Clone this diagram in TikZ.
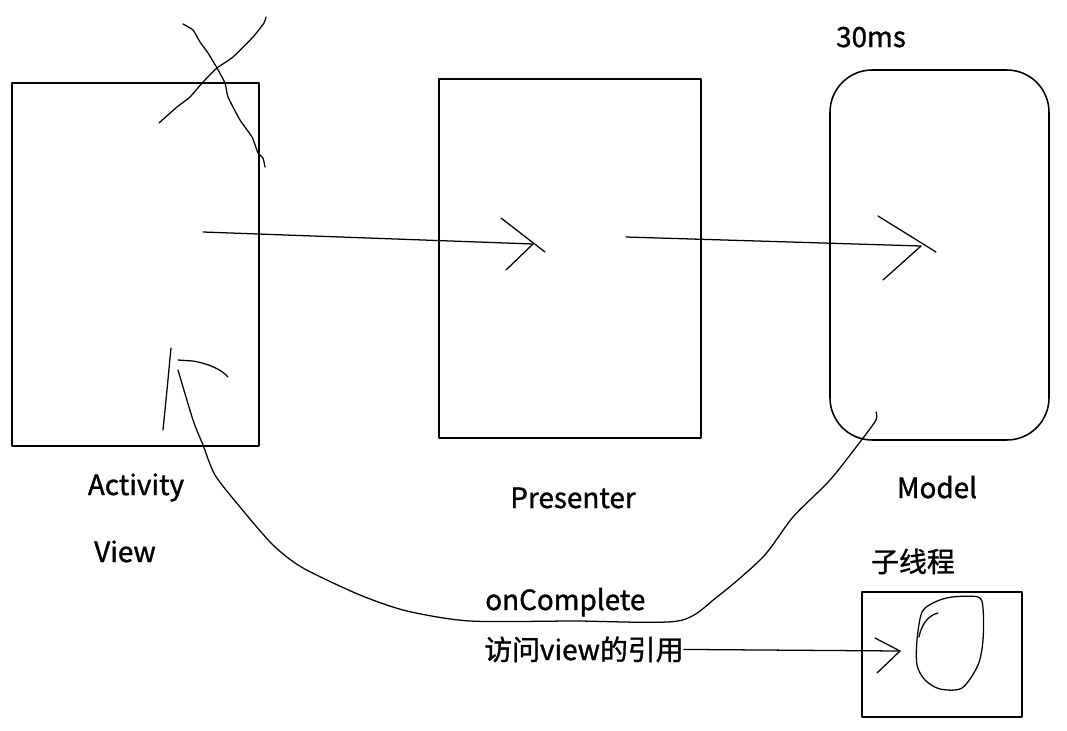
\documentclass[tikz,border=0pt]{standalone}
\usepackage{fontspec}
\setmainfont{Noto Sans CJK SC}[RawFeature={embolden=1.2}]
\begin{document}
\begin{tikzpicture}[x=0.025cm,y=-0.025cm,line join=round,line cap=round]
\tikzset{box/.style={line width=1.1pt},
  pen/.style={line width=0.9pt},
  lbl/.style={font=\fontsize{19.8}{22}\selectfont,inner sep=0pt,anchor=base}}
\useasboundingbox (0,0) rectangle (1067,731);

% boxes
\draw [box] (12,83) rectangle (259,446);
\draw [box] (439,79) rectangle (701,438);
\draw [box,rounded corners=30] (830,70) rectangle (1049,440);
\draw [box] (862,592) rectangle (1022,717);

\node [lbl] (act) at (136,495) {Activity};
\node [lbl] (view) at (125,562) {View};
\node [lbl] (pres) at (573,508) {Presenter};
\node [lbl] (model) at (937,498) {Model};
\node [lbl] (ms) at (871,47) {30ms};
\node [lbl] (sub) at (913,572) {子线程};
\node [lbl,anchor=base west] (done) at (485,610) {onComplete};
\node [lbl,anchor=base west] (ref) at (484,660) {访问view的引用};

\coordinate (a1) at (203,232);
\coordinate (tip1) at (533,244);
\coordinate (a2) at (626,237);
\coordinate (tip2) at (921,246);
\coordinate (tip3) at (900,651);
\coordinate (mtail) at (876,412);
\coordinate (vtip) at (178,370);

% calls
\draw [pen] (a1) -- (tip1);
\draw [pen] (501,218) -- (545,252);
\draw [pen] (tip1) -- (506,270);
\draw [pen] (a2) -- (tip2);
\draw [pen] (878,216) -- (936,252);
\draw [pen] (tip2) -- (883,280);

% callback
\draw [pen] plot [smooth,tension=0.45] coordinates {(mtail) (876,420) (860,442) (830,480) (793,517) (763,557) (717,597) (678,621) (575,621) (470,621) (407,611) (360,595) (303,568) (273,545) (240,507) (215,475) (203,445) (193,420) (vtip)};
\draw [pen] (171,348) -- (167,390) -- (163,430);
\draw [pen] (178,360) -- (193,361) .. controls (210,364) and (222,370) .. (228,377);

\draw [pen] (ref.east) -- (tip3);
\draw [pen] (875,638) -- (tip3) -- (877,673);

% thread blob
\draw [pen] plot [smooth cycle,tension=0.5] coordinates {(917,640) (922,612) (935,602) (952,597) (978,597) (983,608) (983,640) (978,665) (962,688) (940,689) (925,680) (917,665)};
\draw [pen] (919,637) .. controls (922,622) and (930,615) .. (938,613);

% crossed out
\draw [pen] plot [smooth,tension=0.3] coordinates {(183,24) (193,30) (200,42) (208,53) (217,68) (225,83) (228,97) (240,120) (252,137) (258,153) (263,158) (265,167)};
\draw [pen] plot [smooth,tension=0.3] coordinates {(266,17) (264,23) (253,37) (233,57) (217,68) (203,82) (190,97) (177,107) (159,123)};
\end{tikzpicture}
\end{document}
